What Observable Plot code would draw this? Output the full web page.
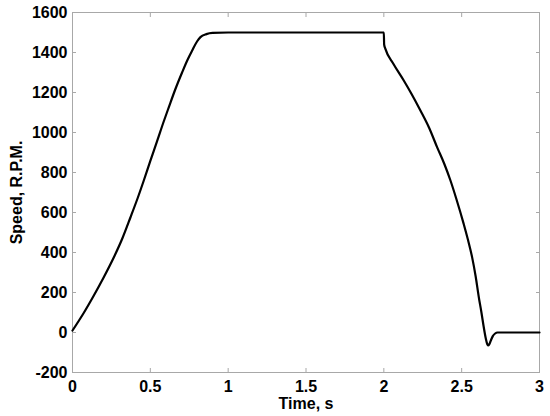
<!DOCTYPE html>
<html>
<head>
<meta charset="utf-8">
<script src="https://cdn.jsdelivr.net/npm/d3@7"></script>
<script src="https://cdn.jsdelivr.net/npm/@observablehq/plot@0.6"></script>
<style>
  html, body { margin: 0; padding: 0; background: #fff; }
  #chart svg { display: block; }
</style>
</head>
<body>
<div id="chart"></div>
<script>
const timeS = [0, 0.07, 0.137, 0.2, 0.265, 0.32, 0.372, 0.42, 0.458, 0.5, 0.544, 0.586, 0.619, 0.66, 0.704, 0.74, 0.769, 0.80, 0.822, 0.86, 0.9, 1.0, 1.5, 2.0,
  2.002, 2.01, 2.06, 2.128, 2.18, 2.235, 2.29, 2.342, 2.39, 2.428, 2.465, 2.513, 2.54, 2.567, 2.59, 2.61, 2.627, 2.642, 2.655, 2.665, 2.672, 2.68, 2.69, 2.70, 2.715, 2.73, 3.0];
const speedRPM = [10, 95, 185, 275, 375, 470, 575, 675, 760, 858, 958, 1055, 1127, 1215, 1300, 1365, 1410, 1455, 1477, 1492, 1498, 1500, 1500, 1500,
  1440, 1418, 1345, 1260, 1190, 1110, 1025, 927, 840, 760, 670, 543, 465, 377, 280, 177, 100, 26, -30, -60, -65, -55, -35, -18, -5, 0, 0];
const xTicks = [0, 0.5, 1, 1.5, 2, 2.5, 3];
const yTicks = [-200, 0, 200, 400, 600, 800, 1000, 1200, 1400, 1600];

const data = timeS.map((t, i) => ({t, v: speedRPM[i]}));
const font = "'Liberation Sans', Arial, sans-serif";

const chart = Plot.plot({
  width: 550,
  height: 416,
  marginLeft: 72,
  marginRight: 11,
  marginTop: 12,
  marginBottom: 44,
  style: {fontFamily: font, fontSize: "16px", fontWeight: "bold", color: "#000", background: "#fff"},
  x: {domain: [0, 3]},
  y: {domain: [-200, 1600]},
  marks: [
    Plot.frame({stroke: "#a8a8a8"}),
    Plot.axisX({ticks: xTicks, tickSize: -4, tickPadding: 12, stroke: "#a8a8a8", tickFormat: d => String(d), label: "Time, s", labelAnchor: "center", labelArrow: "none", labelOffset: 36, fill: "#000"}),
    Plot.axisX({anchor: "top", ticks: xTicks, tickSize: -4, stroke: "#a8a8a8", tickFormat: () => "", label: null}),
    Plot.axisY({ticks: yTicks, tickSize: -4, tickPadding: 9, stroke: "#a8a8a8", tickFormat: d => String(d), label: "Speed, R.P.M.", labelAnchor: "center", labelArrow: "none", labelOffset: 62, fill: "#000"}),
    Plot.axisY({anchor: "right", ticks: yTicks, tickSize: -4, stroke: "#a8a8a8", tickFormat: () => "", label: null}),
    Plot.line(data, {x: "t", y: "v", stroke: "#000", strokeWidth: 2.2, curve: "monotone-x"})
  ]
});
document.getElementById("chart").appendChild(chart);
</script>
</body>
</html>
